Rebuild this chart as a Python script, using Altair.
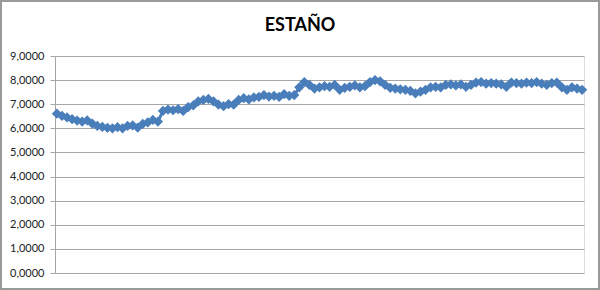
import altair as alt
import pandas as pd

title_text = "ESTAÑO"
y_ticks = [0, 1, 2, 3, 4, 5, 6, 7, 8, 9]
values = [
    6.61, 6.52, 6.45, 6.38, 6.32, 6.28, 6.33, 6.20, 6.10, 6.06,
    6.02, 6.00, 6.05, 6.00, 6.10, 6.12, 6.03, 6.18, 6.25, 6.35,
    6.28, 6.72, 6.78, 6.75, 6.80, 6.72, 6.88, 6.95, 7.12, 7.18,
    7.22, 7.12, 6.98, 6.92, 7.00, 6.98, 7.18, 7.25, 7.20, 7.28,
    7.30, 7.38, 7.32, 7.35, 7.30, 7.42, 7.35, 7.38, 7.70, 7.92,
    7.80, 7.65, 7.70, 7.75, 7.72, 7.80, 7.60, 7.68, 7.72, 7.78,
    7.70, 7.75, 7.92, 8.00, 7.95, 7.80, 7.68, 7.65, 7.62, 7.60,
    7.55, 7.45, 7.52, 7.60, 7.70, 7.72, 7.70, 7.80, 7.82, 7.78,
    7.82, 7.72, 7.80, 7.90, 7.92, 7.85, 7.88, 7.85, 7.82, 7.72,
    7.90, 7.88, 7.85, 7.90, 7.88, 7.92, 7.85, 7.80, 7.88, 7.90,
    7.70, 7.60, 7.70, 7.65, 7.60,
]
periods = list(range(len(values)))

df = pd.DataFrame({"i": periods, "v": values})
title_df = pd.DataFrame({"t": [title_text]})

FONT = "Lato"
BLUE = "#4a7ebb"

x_enc = alt.X("i:Q", scale=alt.Scale(domain=[-0.38, len(values) - 1 + 0.38], nice=False, zero=False), axis=None)
y_enc = alt.Y(
    "v:Q",
    scale=alt.Scale(domain=[0, 9], nice=False),
    axis=alt.Axis(
        values=y_ticks,
        title=None,
        labelExpr="replace(format(datum.value, '.4f'), '.', ',')",
        labelFont=FONT,
        labelFontSize=11,
        labelColor="#222222",
        labelPadding=6,
        grid=True,
        gridColor="#a6a6a6",
        gridWidth=1,
        domain=True,
        domainColor="#a6a6a6",
        tickColor="#a6a6a6",
        tickSize=5,
    ),
)

line = alt.Chart(df).mark_line(color=BLUE, strokeWidth=3).encode(x=x_enc, y=y_enc)
pts = alt.Chart(df).mark_point(shape="diamond", filled=True, color=BLUE, size=105, opacity=1).encode(x=x_enc, y=y_enc)

frame = alt.Chart(df).mark_rect(fill=None, stroke="#9a9a9a", strokeWidth=1.5, clip=False).encode(
    x=alt.value(-54),
    x2=alt.value(544),
    y=alt.value(-55),
    y2=alt.value(233),
)

title = alt.Chart(title_df).mark_text(
    font=FONT, fontSize=18, fontWeight="bold", color="#000000",
    align="center", baseline="alphabetic", clip=False,
).encode(text="t:N", x=alt.value(245), y=alt.value(-25))

chart = (
    alt.layer(line, pts, frame, title)
    .properties(
        width=529,
        height=217,
        padding={"left": 55, "top": 56, "right": 16, "bottom": 17},
        autosize=alt.AutoSizeParams(type="none"),
    )
    .configure_view(stroke=None)
    .configure(background="white")
)

chart.save("out.html", embed_options={"renderer": "svg", "actions": False})
